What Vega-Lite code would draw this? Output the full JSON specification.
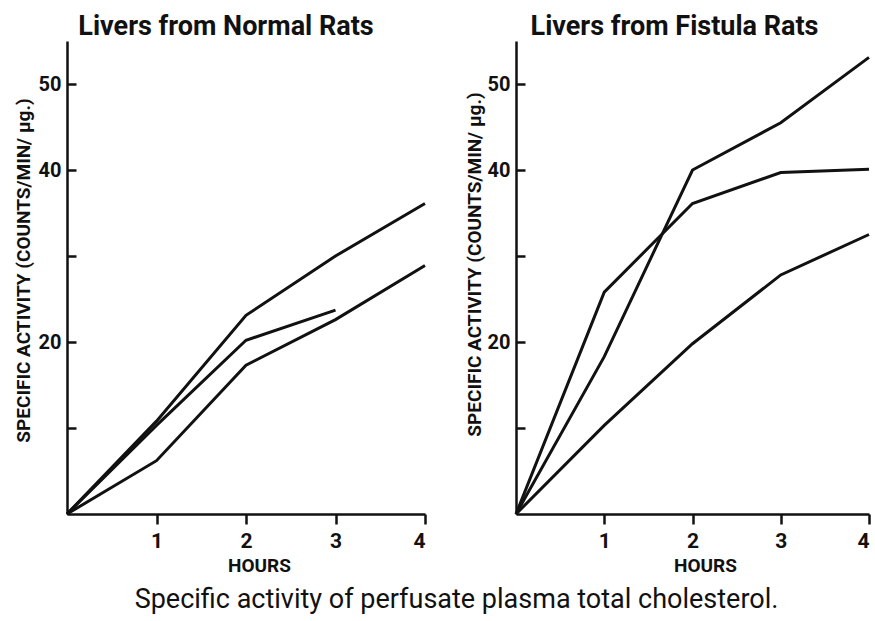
{
  "$schema": "https://vega.github.io/schema/vega-lite/v6.json",
  "background": "white",
  "padding": {"left": 14, "top": 13, "right": 5, "bottom": 5},
  "datasets": {
    "normal": [
      {"series": "A", "hours": 0, "activity": 0},
      {"series": "A", "hours": 1, "activity": 10.8},
      {"series": "A", "hours": 2, "activity": 23.1},
      {"series": "A", "hours": 3, "activity": 30.0},
      {"series": "A", "hours": 4, "activity": 36.1},
      {"series": "B", "hours": 0, "activity": 0},
      {"series": "B", "hours": 1, "activity": 10.3},
      {"series": "B", "hours": 2, "activity": 20.2},
      {"series": "B", "hours": 3, "activity": 23.7},
      {"series": "C", "hours": 0, "activity": 0},
      {"series": "C", "hours": 1, "activity": 6.2},
      {"series": "C", "hours": 2, "activity": 17.3},
      {"series": "C", "hours": 3, "activity": 22.6},
      {"series": "C", "hours": 4, "activity": 28.9}
    ],
    "fistula": [
      {"series": "A", "hours": 0, "activity": 0},
      {"series": "A", "hours": 1, "activity": 18.3},
      {"series": "A", "hours": 2, "activity": 40.0},
      {"series": "A", "hours": 3, "activity": 45.5},
      {"series": "A", "hours": 4, "activity": 53.1},
      {"series": "B", "hours": 0, "activity": 0},
      {"series": "B", "hours": 1, "activity": 25.8},
      {"series": "B", "hours": 2, "activity": 36.1},
      {"series": "B", "hours": 3, "activity": 39.7},
      {"series": "B", "hours": 4, "activity": 40.1},
      {"series": "C", "hours": 0, "activity": 0},
      {"series": "C", "hours": 1, "activity": 10.3},
      {"series": "C", "hours": 2, "activity": 19.8},
      {"series": "C", "hours": 3, "activity": 27.8},
      {"series": "C", "hours": 4, "activity": 32.5}
    ]
  },
  "title": {
    "text": "Specific activity of perfusate plasma total cholesterol.",
    "orient": "bottom",
    "anchor": "middle",
    "font": "Roboto",
    "fontSize": 27,
    "fontWeight": "normal",
    "color": "#111",
    "offset": 12,
    "dx": 12
  },
  "spacing": 91,
  "bounds": "flush",
  "config": {
    "view": {"stroke": null},
    "font": "Roboto",
    "axis": {
      "grid": false,
      "domainColor": "#111",
      "domainWidth": 2.5,
      "tickColor": "#111",
      "tickWidth": 2.5,
      "labelColor": "#111",
      "titleColor": "#111",
      "labelFont": "Roboto",
      "titleFont": "Roboto",
      "labelFontWeight": "bold",
      "titleFontWeight": "bold"
    },
    "title": {
      "font": "Roboto",
      "color": "#111"
    }
  },
  "hconcat": [
    {
      "width": 358,
      "height": 473,
      "data": {"name": "normal"},
      "title": {"text": "Livers from Normal Rats", "fontSize": 27, "fontWeight": "bold", "anchor": "middle", "dx": -20, "offset": -21, "baseline": "alphabetic"},
      "mark": {"type": "line", "color": "#111", "strokeWidth": 3, "strokeJoin": "miter"},
      "encoding": {
        "detail": {"field": "series"},
        "x": {
          "field": "hours", "type": "quantitative",
          "scale": {"domain": [0, 4], "nice": false},
          "axis": {
            "values": [1, 2, 3, 4], "title": "HOURS", "tickSize": 10, "labelPadding": 6,
            "labelFontSize": 21, "titleFontSize": 19, "labelAngle": 0,
            "titleX": 192, "titleY": 57, "titleBaseline": "alphabetic", "titleAnchor": "middle"
          }
        },
        "y": {
          "field": "activity", "type": "quantitative",
          "scale": {"domain": [0, 55], "nice": false},
          "axis": {
            "values": [10, 20, 30, 40, 50],
            "labelExpr": "datum.value == 20 || datum.value == 40 || datum.value == 50 ? datum.label : ''",
            "title": "SPECIFIC ACTIVITY (COUNTS/MIN/ µg.)",
            "tickSize": -9, "labelPadding": 15, "labelFontSize": 20,
            "titleFontSize": 19, "titleX": -44, "titleY": 229, "titleBaseline": "middle", "titleAngle": -90, "titleAlign": "center"
          }
        }
      }
    },
    {
      "width": 353,
      "height": 473,
      "data": {"name": "fistula"},
      "title": {"text": "Livers from Fistula Rats", "fontSize": 27, "fontWeight": "bold", "anchor": "middle", "dx": -18, "offset": -21, "baseline": "alphabetic"},
      "mark": {"type": "line", "color": "#111", "strokeWidth": 3, "strokeJoin": "miter"},
      "encoding": {
        "detail": {"field": "series"},
        "x": {
          "field": "hours", "type": "quantitative",
          "scale": {"domain": [0, 4], "nice": false},
          "axis": {
            "values": [1, 2, 3, 4], "title": "HOURS", "tickSize": 10, "labelPadding": 6,
            "labelFontSize": 21, "titleFontSize": 19, "labelAngle": 0,
            "titleX": 189, "titleY": 57, "titleBaseline": "alphabetic", "titleAnchor": "middle"
          }
        },
        "y": {
          "field": "activity", "type": "quantitative",
          "scale": {"domain": [0, 55], "nice": false},
          "axis": {
            "values": [10, 20, 30, 40, 50],
            "labelExpr": "datum.value == 20 || datum.value == 40 || datum.value == 50 ? datum.label : ''",
            "title": "SPECIFIC ACTIVITY (COUNTS/MIN/ µg.)",
            "tickSize": -9, "labelPadding": 15, "labelFontSize": 20,
            "titleFontSize": 19, "titleX": -42, "titleY": 223, "titleBaseline": "middle", "titleAngle": -90, "titleAlign": "center"
          }
        }
      }
    }
  ]
}
